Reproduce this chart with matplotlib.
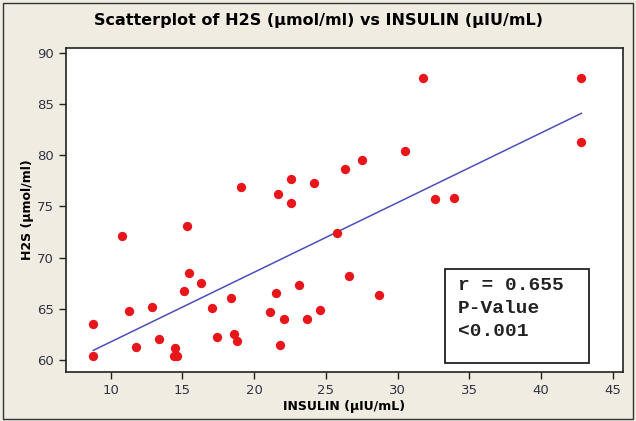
import numpy as np
import matplotlib.pyplot as plt
from matplotlib.patches import Rectangle

# INSULIN (uIU/mL) vs H2S (umol/ml)
insulin = [8.8, 8.8, 10.8, 11.3, 11.8, 12.9, 13.4, 14.4, 14.6, 14.5,
           15.1, 15.3, 15.5, 16.3, 17.1, 17.4, 18.4, 18.6, 18.8, 19.1,
           21.1, 21.5, 21.7, 21.8, 22.1, 22.6, 22.6, 23.1, 23.7, 24.2,
           24.6, 25.8, 26.3, 26.6, 27.5, 28.7, 30.5, 31.8, 32.6, 33.9,
           42.8, 42.8]
h2s = [63.5, 60.4, 72.1, 64.8, 61.2, 65.2, 62.0, 60.4, 60.4, 61.1,
       66.7, 73.1, 68.5, 67.5, 65.1, 62.2, 66.0, 62.5, 61.8, 76.9,
       64.7, 66.5, 76.2, 61.4, 64.0, 77.7, 75.3, 67.3, 64.0, 77.3,
       64.9, 72.4, 78.7, 68.2, 79.5, 66.3, 80.4, 87.6, 75.7, 75.8,
       87.6, 81.3]

xticks = [10, 15, 20, 25, 30, 35, 40, 45]
yticks = [60, 65, 70, 75, 80, 85, 90]

bg = "#f1ece2"
fig = plt.figure(figsize=(6.36, 4.21), dpi=100, facecolor=bg)
ax = fig.add_axes([66 / 636, 1 - 372 / 421, 557 / 636, 324 / 421])
ax.set_facecolor("white")

ax.scatter(insulin, h2s, s=45, color="#e8151b", zorder=3, linewidths=0)

slope, icpt = np.polyfit(insulin, h2s, 1)
xl = np.array([min(insulin), max(insulin)])
ax.plot(xl, icpt + slope * xl, color="#4b4fb8", linewidth=1.1, zorder=2)

ax.set_xlim(6.9, 45.7)
ax.set_ylim(58.8, 90.5)
ax.set_xticks(xticks)
ax.set_yticks(yticks)
ax.tick_params(direction="out", length=5, width=1, colors="#222222",
               labelsize=9.5, labelcolor="#333344")
for s in ax.spines.values():
    s.set_linewidth(1.2)
    s.set_color("#222222")

ax.set_xlabel("INSULIN (µIU/mL)", fontsize=9, fontweight="bold", labelpad=2)
ax.set_ylabel("H2S (µmol/ml)", fontsize=9, fontweight="bold", labelpad=2)
fig.text(0.5, 1 - 21 / 421, "Scatterplot of H2S (µmol/ml) vs INSULIN (µIU/mL)",
         ha="center", va="center", fontsize=11.5, fontweight="bold")

# stats box
ax.add_patch(Rectangle((0.680, 0.028), 0.259, 0.290, transform=ax.transAxes,
                       fc="white", ec="#222222", lw=1.3, zorder=4))
ax.text(0.704, 0.292, "r = 0.655\nP-Value\n<0.001", transform=ax.transAxes,
        family="Liberation Mono", fontweight="bold", fontsize=14,
        va="top", ha="left", linespacing=1.45, color="#222222", zorder=5)

fig.patches.append(Rectangle((0.004, 0.004), 0.992, 0.99, transform=fig.transFigure,
                             fill=False, ec="#333333", lw=1))

fig.savefig("out.png", dpi=100, facecolor=bg)
